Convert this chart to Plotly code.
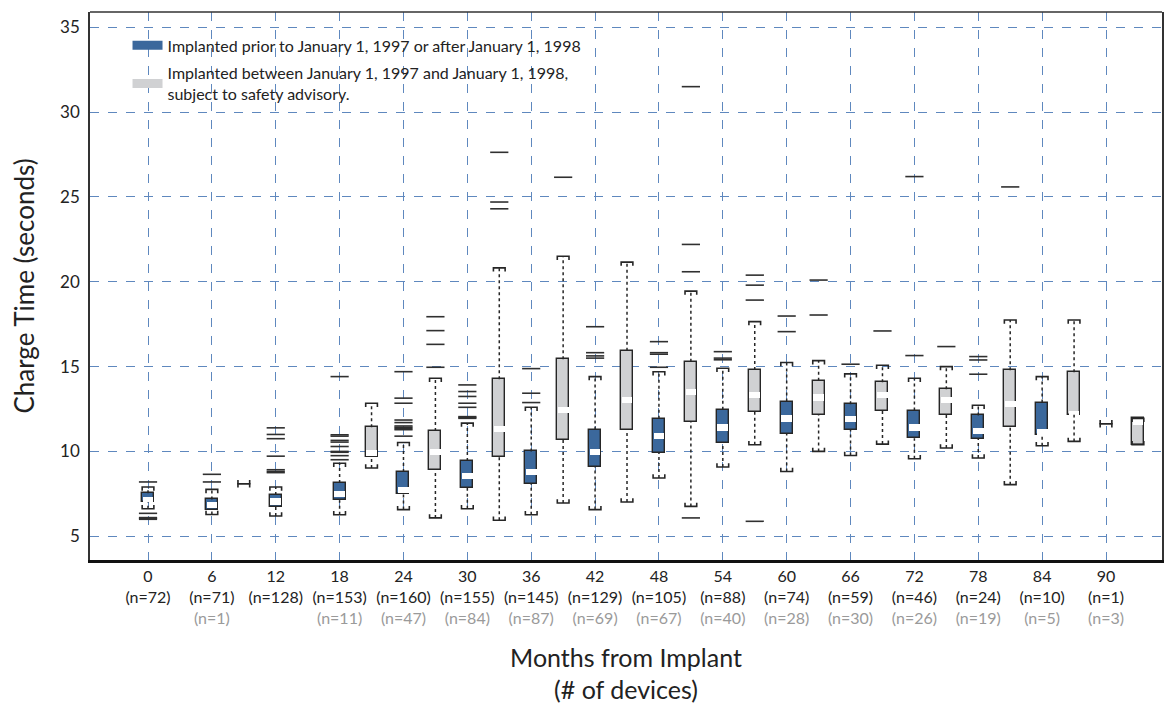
import plotly.graph_objects as go

# ---------------- data ----------------
months_blue = [0, 6, 12, 18, 24, 30, 36, 42, 48, 54, 60, 66, 72, 78, 84, 90]
q1_blue  = [7.00, 6.52, 6.72, 7.12, 7.51, 7.86, 8.10, 9.08, 9.90, 10.49, 11.02, 11.27, 10.78, 10.73, 10.98, 11.63]
med_blue = [7.15, 6.84, 7.05, 7.51, 7.75, 8.53, 8.80, 9.98, 10.92, 11.41, 11.94, 11.90, 11.41, 11.22, 11.15, 11.63]
q3_blue  = [7.53, 7.17, 7.43, 8.14, 8.78, 9.43, 10.00, 11.29, 11.92, 12.45, 12.94, 12.78, 12.41, 12.12, 12.88, 11.63]
lo_blue  = [6.62, 6.28, 6.19, 6.27, 6.57, 6.62, 6.27, 6.57, 8.43, 9.08, 8.82, 9.76, 9.57, 9.61, 10.33, 11.63]
hi_blue  = [7.90, 7.76, 7.90, 9.30, 10.53, 11.67, 12.60, 14.41, 14.70, 14.90, 15.24, 14.57, 14.31, 12.72, 14.41, 11.63]
out_blue = [
    [8.20, 6.35, 6.10, 6.05, 6.00],
    [8.65, 8.20],
    [11.39, 11.00, 10.75, 9.72, 8.92, 8.82, 8.75],
    [14.41, 10.98, 10.90, 10.65, 10.55, 10.29, 10.00, 9.95, 9.75, 9.51],
    [14.70, 13.14, 12.84, 11.85, 11.70, 11.50, 11.42, 11.35, 11.28, 10.90],
    [13.92, 13.53, 13.24, 12.84, 12.60, 12.05, 12.00, 11.95],
    [14.88, 13.43, 12.88],
    [17.35, 15.82, 15.63, 15.50],
    [16.47, 15.82, 15.73, 14.96],
    [15.88, 15.50, 15.40],
    [17.98, 17.06],
    [15.14],
    [26.20, 15.65],
    [15.59, 15.39, 14.55],
    [],
    [],
]

months_gray = [9, 21, 27, 33, 39, 45, 51, 57, 63, 69, 75, 81, 87, 93]
q1_gray  = [8.09, 9.65, 8.90, 9.67, 10.69, 11.24, 11.75, 12.35, 12.16, 12.39, 12.14, 11.43, 12.16, 10.40]
med_gray = [8.09, 9.90, 9.94, 11.30, 12.45, 13.04, 13.50, 13.33, 13.18, 13.31, 13.04, 12.80, 12.22, 11.75]
q3_gray  = [8.09, 11.43, 11.20, 14.25, 15.43, 15.94, 15.29, 14.80, 14.16, 14.08, 13.67, 14.78, 14.67, 11.95]
lo_gray  = [8.09, 9.02, 6.08, 5.94, 6.96, 7.02, 6.76, 10.39, 10.00, 10.43, 10.20, 8.04, 10.59, 10.40]
hi_gray  = [8.09, 12.84, 14.31, 20.82, 21.50, 21.16, 19.45, 17.65, 15.35, 15.08, 15.00, 17.75, 17.75, 11.95]
out_gray = [
    [], [], [17.94, 17.12, 16.31, 14.96], [27.63, 24.70, 24.30], [26.16], [],
    [31.50, 22.20, 20.59, 6.08], [20.39, 19.80, 18.92, 5.88], [20.10, 18.04],
    [17.10], [16.18], [25.59], [], [],
]

tick_months = [0, 6, 12, 18, 24, 30, 36, 42, 48, 54, 60, 66, 72, 78, 84, 90]
n_blue = [72, 71, 128, 153, 160, 155, 145, 129, 105, 88, 74, 59, 46, 24, 10, 1]
n_gray = [None, 1, None, 11, 47, 84, 87, 69, 67, 40, 28, 30, 26, 19, 5, 3]

# ---------------- styles ----------------
BLUE = "#3b689c"
GRAY = "#d0d1d3"
EDGE = "#262626"
GRID = "#5f88be"
FONT = "Lato"
BOX_W = 1.13      # months
CAP_W = 0.55      # half width of caps (months)
CAP_D = 0.22      # tick height of caps (seconds)
MED_H = 0.18      # half height of median band (seconds)

fig = go.Figure()


def add_group(xs, q1, med, q3, lo, hi, outs, color):
    bx, bbase, bh = [], [], []
    for x, a, b in zip(xs, q1, q3):
        if b - a > 1e-9:
            bx.append(x); bbase.append(a); bh.append(b - a)
    fig.add_trace(go.Bar(x=bx, y=bh, base=bbase, width=BOX_W,
                         marker=dict(color=color, line=dict(color=EDGE, width=1.4)),
                         showlegend=False, hoverinfo="skip"))
    mx, mbase, mh = [], [], []
    for x, a, m, b in zip(xs, q1, med, q3):
        if b - a > 1e-9:
            lo_m = max(a, m - MED_H)
            hi_m = min(b, m + MED_H)
            mx.append(x); mbase.append(lo_m); mh.append(hi_m - lo_m)
    fig.add_trace(go.Bar(x=mx, y=mh, base=mbase, width=BOX_W - 0.12,
                         marker=dict(color="white", line=dict(width=0)),
                         showlegend=False, hoverinfo="skip"))
    # whiskers
    wx, wy = [], []
    for x, a, b, l, h in zip(xs, q1, q3, lo, hi):
        if a - l > 1e-9:
            wx += [x, x, None]; wy += [l, a, None]
        if h - b > 1e-9:
            wx += [x, x, None]; wy += [b, h, None]
    fig.add_trace(go.Scatter(x=wx, y=wy, mode="lines",
                             line=dict(color=EDGE, width=1.5, dash="dot"),
                             showlegend=False, hoverinfo="skip"))
    # caps
    cx, cy = [], []
    for x, l, h in zip(xs, lo, hi):
        cx += [x - CAP_W, x - CAP_W, x + CAP_W, x + CAP_W, None]
        cy += [l + CAP_D, l, l, l + CAP_D, None]
        cx += [x - CAP_W, x - CAP_W, x + CAP_W, x + CAP_W, None]
        cy += [h - CAP_D, h, h, h - CAP_D, None]
    fig.add_trace(go.Scatter(x=cx, y=cy, mode="lines",
                             line=dict(color=EDGE, width=1.6),
                             showlegend=False, hoverinfo="skip"))
    # outliers
    ox, oy = [], []
    for x, o in zip(xs, outs):
        for v in o:
            ox.append(x); oy.append(v)
    fig.add_trace(go.Scatter(x=ox, y=oy, mode="markers",
                             marker=dict(symbol="line-ew", size=13,
                                         line=dict(color="#303030", width=1.6)),
                             showlegend=False, hoverinfo="skip"))


add_group(months_blue, q1_blue, med_blue, q3_blue, lo_blue, hi_blue, out_blue, BLUE)
add_group(months_gray, q1_gray, med_gray, q3_gray, lo_gray, hi_gray, out_gray, GRAY)

# legend entries
fig.add_trace(go.Scatter(x=[None], y=[None], mode="lines", legendgroup="a",
                         line=dict(color=BLUE, width=9),
                         name="Implanted prior to January 1, 1997 or after January 1, 1998"))
fig.add_trace(go.Scatter(x=[None], y=[None], mode="lines", legendgroup="b",
                         line=dict(color=GRAY, width=9),
                         name="Implanted between January 1, 1997 and January 1, 1998,<br>subject to safety advisory."))

ticktext = []
for m, nb, ng in zip(tick_months, n_blue, n_gray):
    t = f"{m}<br>(n={nb})"
    if ng is not None:
        t += f"<br><span style='color:#9a9a9a'>(n={ng})</span>"
    else:
        t += "<br> "
    ticktext.append(t)

# the page body adds an 8px margin, so the figure is sized to fit the window
fig.update_layout(
    width=1164, height=697,
    margin=dict(l=82, r=10, t=4, b=145, autoexpand=False),
    paper_bgcolor="white", plot_bgcolor="white",
    barmode="overlay", bargap=0,
    font=dict(family=FONT, color="#222222", size=16),
    legend=dict(x=0.035, y=0.97, xanchor="left", yanchor="top",
                bgcolor="rgba(0,0,0,0)", font=dict(size=16, family=FONT),
                tracegroupgap=4, itemwidth=30),
    xaxis=dict(range=[-5.45, 95.26], tickmode="array", tickvals=tick_months,
               ticktext=ticktext, showgrid=True, gridcolor=GRID, gridwidth=1.3,
               griddash="dash", zeroline=False, showline=True, linecolor="#111111",
               linewidth=3, ticks="", tickfont=dict(size=16), automargin=False,
               title=dict(text="Months from Implant<br>(# of devices)",
                          font=dict(size=25), standoff=24)),
    yaxis=dict(range=[3.6, 35.9], tickvals=[5, 10, 15, 20, 25, 30, 35],
               showgrid=True, gridcolor=GRID, gridwidth=1.3, griddash="dash",
               zeroline=False, showline=True, mirror=True, linecolor="#333333",
               linewidth=1.5, ticks="", tickfont=dict(size=17), automargin=False,
               ticklabelstandoff=5,
               title=dict(text="Charge Time (seconds)", font=dict(size=26),
                          standoff=22)),
    shapes=[dict(type="line", xref="paper", yref="paper", x0=0, x1=1, y0=1, y1=1,
                 line=dict(color="#333333", width=1.5))],
)

fig.write_html("out.html")
